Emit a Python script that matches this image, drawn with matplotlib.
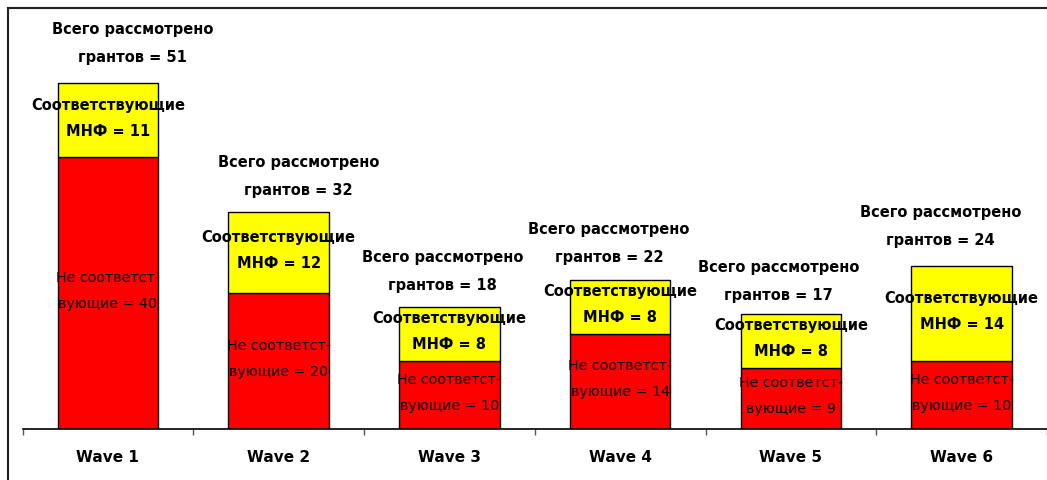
import matplotlib
matplotlib.use("Agg")
import matplotlib.pyplot as plt
from matplotlib.lines import Line2D

categories = ["Wave 1", "Wave 2", "Wave 3", "Wave 4", "Wave 5", "Wave 6"]
not_matching = [40, 20, 10, 14, 9, 10]
matching = [11, 12, 8, 8, 8, 14]
totals = [51, 32, 18, 22, 17, 24]

# manual placement of the "total" label blocks (pixels: horizontal shift, height above bar)
total_dx = [25, 20, -7, -11, -12, -21]
total_dy = [26, 22, 22, 23, 19, 27]

W, H = 1047, 481
fig = plt.figure(figsize=(W / 100, H / 100), dpi=100)
ax = fig.add_axes([22.5 / W, 1 - 430 / H, 1 - 22.5 / W, (430 - 9) / H])

x = list(range(len(categories)))
bw = 0.59
ax.bar(x, not_matching, width=bw, color="#FF0000", edgecolor="black", linewidth=1)
ax.bar(x, matching, width=bw, bottom=not_matching, color="#FFFF00", edgecolor="black", linewidth=1)

ax.set_xlim(-0.5, len(categories) - 0.5)
ax.set_ylim(0, 62)
for s in ["top", "right", "left"]:
    ax.spines[s].set_visible(False)
ax.spines["bottom"].set_linewidth(1.2)
ax.set_yticks([])
ax.set_xticks(x)
ax.set_xticklabels(categories, fontsize=11, fontweight="bold")
ax.tick_params(axis="x", which="major", length=0, pad=14.5)
ax.set_xticks([i - 0.5 for i in range(len(categories) + 1)], minor=True)
ax.tick_params(axis="x", which="minor", length=4, width=1, color="#555555", direction="out")

px = 0.72  # points per pixel at 100 dpi
for i in x:
    n, m, t = not_matching[i], matching[i], totals[i]
    dx, dy = total_dx[i], total_dy[i]
    ax.annotate("Всего рассмотрено", (i, t), xytext=(dx * px, (dy + 28) * px), textcoords="offset points",
                ha="center", va="center", fontsize=10.5, fontweight="bold")
    ax.annotate(f"грантов = {t}", (i, t), xytext=(dx * px, dy * px), textcoords="offset points",
                ha="center", va="center", fontsize=10.5, fontweight="bold")
    ym = n + m / 2
    ax.annotate("Соответствующие", (i, ym), xytext=(0, 16 * px), textcoords="offset points",
                ha="center", va="center", fontsize=10.5, fontweight="bold")
    ax.annotate(f"МНФ = {m}", (i, ym), xytext=(0, -10 * px), textcoords="offset points",
                ha="center", va="center", fontsize=10.5, fontweight="bold")
    yr = n / 2
    ax.annotate("Не соответст-", (i, yr), xytext=(0, 16 * px), textcoords="offset points",
                ha="center", va="center", fontsize=10.3)
    ax.annotate(f"вующие = {n}", (i, yr), xytext=(0, -10 * px), textcoords="offset points",
                ha="center", va="center", fontsize=10.3)

fig.add_artist(Line2D([8 / W, 1], [1 - 9 / H, 1 - 9 / H], transform=fig.transFigure,
                      color="#222222", linewidth=1.5))
fig.add_artist(Line2D([8 / W, 8 / W], [0, 1 - 9 / H], transform=fig.transFigure,
                      color="#222222", linewidth=1.5))

fig.savefig("out.png", dpi=100)
